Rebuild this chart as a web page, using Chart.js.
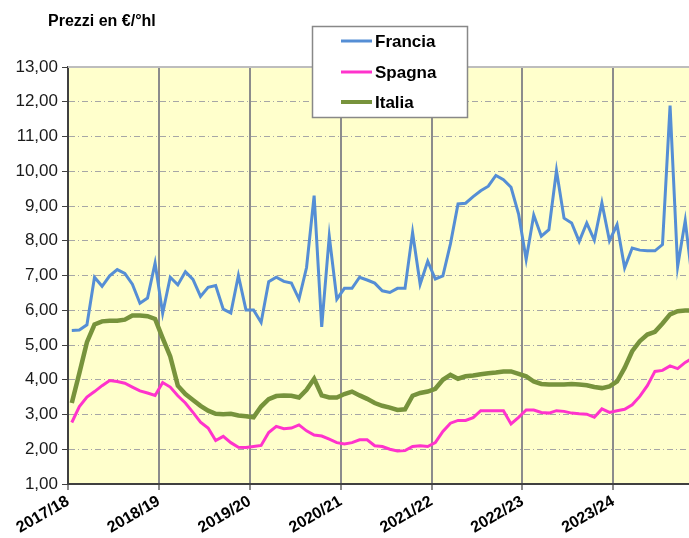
<!DOCTYPE html>
<html>
<head>
<meta charset="utf-8">
<script src="https://cdn.jsdelivr.net/npm/chart.js@4/dist/chart.umd.min.js"></script>
<style>
  html, body { margin: 0; padding: 0; background: #ffffff; }
  #wrap { position: relative; width: 689px; height: 538px; }
</style>
</head>
<body>
<div id="wrap"><canvas id="c" width="689" height="538"></canvas></div>
<script>
// ---- Data (monthly values, seasons start at each 12th month) ----
const seasons = ["2017/18", "2018/19", "2019/20", "2020/21", "2021/22", "2022/23", "2023/24"];
const seriesNames = ["Francia", "Spagna", "Italia"];
const yTickValues = [1, 2, 3, 4, 5, 6, 7, 8, 9, 10, 11, 12, 13];

const francia = [
  5.42, 5.43, 5.58, 6.95, 6.69, 6.99, 7.17, 7.06, 6.75, 6.20, 6.35, 7.36,
  5.91, 6.95, 6.73, 7.11, 6.89, 6.40, 6.66, 6.71, 6.03, 5.92, 7.00, 6.01,
  6.01, 5.65, 6.82, 6.95, 6.83, 6.78, 6.32, 7.23, 9.30, 5.52, 8.13, 6.32,
  6.63, 6.63, 6.95, 6.87, 6.78, 6.56, 6.51, 6.63, 6.63, 8.24, 6.75, 7.41,
  6.90, 6.99, 7.91, 9.06, 9.08, 9.27, 9.44, 9.57, 9.88, 9.76, 9.54, 8.77,
  7.46, 8.74, 8.13, 8.32, 10.02, 8.65, 8.51, 7.98, 8.51, 8.02, 9.09, 8.00,
  8.46, 7.22, 7.79, 7.73, 7.71, 7.71, 7.89, 11.89, 7.26, 8.58, 6.75
];
const spagna = [
  2.77, 3.23, 3.50, 3.66, 3.83, 3.98, 3.95, 3.90, 3.79, 3.68, 3.62, 3.55,
  3.92, 3.79, 3.54, 3.33, 3.06, 2.78, 2.61, 2.25, 2.37, 2.19, 2.06, 2.05,
  2.08, 2.11, 2.48, 2.66, 2.59, 2.61, 2.70, 2.53, 2.41, 2.38, 2.29, 2.19,
  2.15, 2.19, 2.27, 2.27, 2.10, 2.08, 2.00, 1.95, 1.96, 2.08, 2.10, 2.08,
  2.19, 2.51, 2.75, 2.83, 2.83, 2.91, 3.11, 3.11, 3.11, 3.11, 2.73, 2.92,
  3.13, 3.13, 3.06, 3.04, 3.11, 3.09, 3.04, 3.02, 3.01, 2.92, 3.16, 3.06,
  3.11, 3.15, 3.28, 3.52, 3.83, 4.24, 4.27, 4.40, 4.32, 4.50, 4.62
];
const italia = [
  3.33, 4.19, 5.08, 5.59, 5.68, 5.70, 5.70, 5.73, 5.85, 5.85, 5.83, 5.75,
  5.20, 4.67, 3.83, 3.59, 3.42, 3.25, 3.11, 3.02, 3.01, 3.02, 2.97, 2.95,
  2.92, 3.23, 3.44, 3.53, 3.55, 3.54, 3.49, 3.71, 4.03, 3.55, 3.49, 3.49,
  3.59, 3.66, 3.55, 3.45, 3.33, 3.25, 3.20, 3.13, 3.15, 3.54, 3.62, 3.66,
  3.74, 4.00, 4.14, 4.03, 4.10, 4.12, 4.16, 4.19, 4.21, 4.24, 4.24, 4.17,
  4.10, 3.95, 3.88, 3.86, 3.86, 3.86, 3.88, 3.86, 3.84, 3.79, 3.76, 3.81,
  3.95, 4.34, 4.82, 5.11, 5.30, 5.38, 5.62, 5.88, 5.97, 5.99, 5.99
];

const MONTHS_PER_SEASON = 12;
const VISIBLE_MONTHS = 82;

const colors = { Francia: "#558ED5", Spagna: "#FF33CC", Italia: "#77933C" };
const widths = { Francia: 3, Spagna: 3, Italia: 4.5 };
const FONT = "'Liberation Sans', Arial, sans-serif";

function toPoints(arr) { return arr.map((v, i) => ({ x: i + 0.5, y: v })); }

const bgPlugin = {
  id: "bg",
  beforeDraw(chart) {
    const { ctx, chartArea: a } = chart;
    ctx.save();
    ctx.fillStyle = "#FFFFCC";
    ctx.fillRect(a.left, a.top, a.right - a.left, a.bottom - a.top);
    ctx.restore();
  },
  beforeDatasetsDraw(chart) {
    const { ctx, chartArea: a } = chart;
    ctx.save();
    ctx.strokeStyle = "#BDBDBD";
    ctx.lineWidth = 2;
    ctx.beginPath();
    ctx.moveTo(a.left, a.top);
    ctx.lineTo(a.right, a.top);
    ctx.stroke();
    ctx.restore();
  },
  afterDraw(chart) {
    const ctx = chart.ctx;
    ctx.save();
    // title
    ctx.fillStyle = "#000";
    ctx.font = "bold 16px " + FONT;
    ctx.textAlign = "left";
    ctx.textBaseline = "middle";
    ctx.fillText("Prezzi en \u20AC/\u00B0hl", 48, 22);
    // legend
    ctx.fillStyle = "#FFFFFF";
    ctx.fillRect(312.5, 26.5, 155, 91);
    ctx.strokeStyle = "#888888";
    ctx.lineWidth = 1.5;
    ctx.strokeRect(312.5, 26.5, 155, 91);
    const rows = [41, 72, 102];
    seriesNames.forEach((name, k) => {
      ctx.strokeStyle = colors[name];
      ctx.lineWidth = name === "Italia" ? 4 : 3;
      ctx.beginPath();
      ctx.moveTo(341, rows[k]);
      ctx.lineTo(372, rows[k]);
      ctx.stroke();
      ctx.fillStyle = "#000";
      ctx.font = "bold 17px " + FONT;
      ctx.textBaseline = "middle";
      ctx.fillText(name, 375, rows[k] + 1);
    });
    ctx.restore();
  }
};

const seriesData = { Francia: francia, Spagna: spagna, Italia: italia };

new Chart(document.getElementById("c"), {
  type: "line",
  data: {
    datasets: seriesNames.map(name => ({
      label: name,
      data: toPoints(seriesData[name]),
      borderColor: colors[name],
      backgroundColor: colors[name],
      borderWidth: widths[name],
      pointRadius: 0,
      tension: 0,
      fill: false
    }))
  },
  options: {
    responsive: false,
    animation: false,
    devicePixelRatio: 1,
    layout: { padding: { top: 67, right: 0, left: 0, bottom: 0 } },
    plugins: { legend: { display: false }, tooltip: { enabled: false }, title: { display: false } },
    scales: {
      x: {
        type: "linear",
        min: 0,
        max: VISIBLE_MONTHS,
        afterBuildTicks: s => { s.ticks = seasons.map((_, k) => ({ value: k * MONTHS_PER_SEASON })); },
        afterFit: s => { s.height = 54; },
        ticks: {
          autoSkip: false,
          maxRotation: 30,
          minRotation: 30,
          padding: 2,
          color: "#000",
          font: { family: FONT, size: 16, weight: "bold" },
          callback: v => seasons[Math.round(v / MONTHS_PER_SEASON)]
        },
        grid: { color: "#8C8C8C", lineWidth: 2, drawTicks: true, tickLength: 6, tickColor: "#8C8C8C" },
        border: { display: true, color: "#404040", width: 2 }
      },
      y: {
        min: 1,
        max: 13,
        afterBuildTicks: s => { s.ticks = yTickValues.map(v => ({ value: v })); },
        afterFit: s => { s.width = 68; },
        ticks: {
          padding: 4,
          color: "#1a1a1a",
          font: { family: FONT, size: 17 },
          callback: v => v.toFixed(2).replace(".", ",")
        },
        grid: { color: "#A6A6A6", lineWidth: 1, drawTicks: true, tickLength: 6, tickColor: "#404040", tickBorderDash: [] },
        border: { display: true, color: "#404040", width: 2, dash: [6, 3, 1, 3] }
      }
    }
  },
  plugins: [bgPlugin]
});
</script>
</body>
</html>
